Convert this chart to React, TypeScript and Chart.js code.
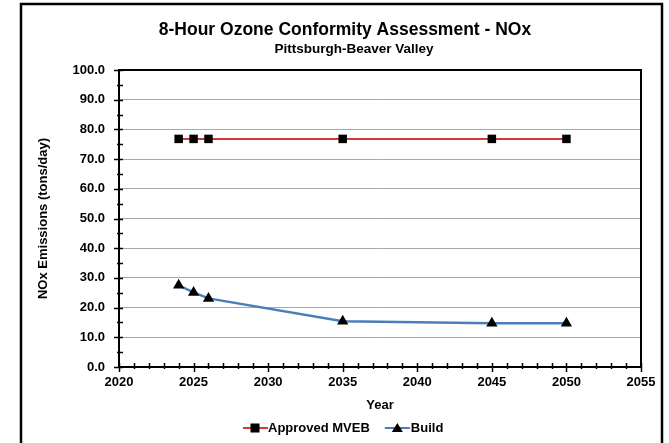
import React, { useEffect, useRef } from "react";
import { Chart, registerables } from "chart.js";

Chart.register(...registerables);

const years = [2024, 2025, 2026, 2035, 2045, 2050];
const approvedMVEB = [76.8, 76.8, 76.8, 76.8, 76.8, 76.8];
const build = [27.5, 25.1, 23.1, 15.4, 14.7, 14.7];
const titleText = "8-Hour Ozone Conformity Assessment - NOx";
const subtitleText = "Pittsburgh-Beaver Valley";
const yAxisTitle = "NOx Emissions (tons/day)";
const xAxisTitle = "Year";
const seriesNames = ["Approved MVEB", "Build"];

const RED = "#d23a3a";
const BLUE = "#4a7ebb";
const FONT = "'Liberation Sans', Arial, sans-serif";

const decorPlugin = {
  id: "decor",
  beforeDraw(chart: any) {
    const ctx = chart.ctx;
    ctx.save();
    ctx.fillStyle = "#ffffff";
    ctx.fillRect(0, 0, chart.width, chart.height);
    ctx.restore();
  },
  afterDatasetsDraw(chart: any) {
    const ctx = chart.ctx;
    const ca = chart.chartArea;
    const xs = chart.scales.x;
    const ys = chart.scales.y;
    ctx.save();
    ctx.strokeStyle = "#000";
    ctx.lineWidth = 2;
    ctx.strokeRect(ca.left, ca.top, ca.right - ca.left, ca.bottom - ca.top);
    ctx.lineWidth = 1.5;
    for (let yr = 2020; yr <= 2055; yr++) {
      const px = Math.round(xs.getPixelForValue(yr)) + 0.5;
      const major = yr % 5 === 0;
      ctx.beginPath();
      ctx.moveTo(px, ca.bottom - 4);
      ctx.lineTo(px, ca.bottom + (major ? 5 : 2));
      ctx.stroke();
    }
    for (let v = 0; v <= 100; v += 5) {
      const py = Math.round(ys.getPixelForValue(v)) + 0.5;
      const major = v % 10 === 0;
      ctx.beginPath();
      ctx.moveTo(ca.left - (major ? 5 : 2), py);
      ctx.lineTo(ca.left + 4, py);
      ctx.stroke();
    }
    ctx.restore();
  },
  afterDraw(chart: any) {
    const ctx = chart.ctx;
    const ca = chart.chartArea;
    ctx.save();
    ctx.strokeStyle = "#000";
    ctx.lineWidth = 2.5;
    ctx.strokeRect(21, 4, 641, 441);
    ctx.fillStyle = "#000";
    ctx.textAlign = "center";
    ctx.textBaseline = "middle";
    ctx.font = `bold 17.5px ${FONT}`;
    ctx.fillText(titleText, 345, 30);
    ctx.font = `bold 13.5px ${FONT}`;
    ctx.fillText(subtitleText, 354, 49);
    ctx.save();
    ctx.translate(43, (ca.top + ca.bottom) / 2);
    ctx.rotate(-Math.PI / 2);
    ctx.font = `bold 13px ${FONT}`;
    ctx.fillText(yAxisTitle, 0, 0);
    ctx.restore();
    ctx.font = `bold 13px ${FONT}`;
    ctx.fillText(xAxisTitle, 380, 405);
    const ly = 428;
    ctx.textAlign = "left";
    ctx.font = `bold 13px ${FONT}`;
    ctx.lineWidth = 2;
    ctx.strokeStyle = RED;
    ctx.beginPath();
    ctx.moveTo(243, ly);
    ctx.lineTo(268, ly);
    ctx.stroke();
    ctx.fillStyle = "#000";
    ctx.fillRect(250.5, ly - 4.5, 9, 9);
    ctx.fillText(seriesNames[0], 268, ly);
    const w0 = ctx.measureText(seriesNames[0]).width;
    const s2 = 268 + w0 + 15;
    ctx.strokeStyle = BLUE;
    ctx.beginPath();
    ctx.moveTo(s2, ly);
    ctx.lineTo(s2 + 25, ly);
    ctx.stroke();
    ctx.fillStyle = "#000";
    ctx.beginPath();
    ctx.moveTo(s2 + 12.5, ly - 5);
    ctx.lineTo(s2 + 18, ly + 4);
    ctx.lineTo(s2 + 7, ly + 4);
    ctx.closePath();
    ctx.fill();
    ctx.fillText(seriesNames[1], s2 + 26, ly);
    ctx.restore();
  },
};

export default function App() {
  const ref = useRef<HTMLCanvasElement>(null);
  useEffect(() => {
    document.body.style.margin = "0";
    const chart = new Chart(ref.current!, {
      type: "line",
      data: {
        datasets: [
          {
            label: seriesNames[0],
            data: years.map((x, i) => ({ x, y: approvedMVEB[i] })),
            borderColor: RED,
            borderWidth: 2,
            pointStyle: "rect",
            pointRadius: 6,
            pointBackgroundColor: "#000",
            pointBorderColor: "#000",
            pointBorderWidth: 0,
          },
          {
            label: seriesNames[1],
            data: years.map((x, i) => ({ x, y: build[i] })),
            borderColor: BLUE,
            borderWidth: 2.5,
            pointStyle: "triangle",
            pointRadius: 6.5,
            pointBackgroundColor: "#000",
            pointBorderColor: "#000",
            pointBorderWidth: 0,
          },
        ],
      },
      options: {
        animation: false,
        responsive: false,
        layout: { padding: { left: 0, top: 70, right: 28, bottom: 0 } },
        plugins: {
          legend: { display: false },
          title: { display: false },
          tooltip: { enabled: false },
        },
        scales: {
          x: {
            type: "linear",
            min: 2020,
            max: 2055,
            afterFit: (s: any) => {
              s.height = 76;
            },
            ticks: {
              stepSize: 5,
              padding: 8,
              color: "#000",
              font: { family: FONT, size: 13, weight: "bold" },
              callback: (v: any) => String(v),
              maxRotation: 0,
            },
            grid: { display: false, drawTicks: false },
            border: { display: true, color: "#000", width: 2 },
          },
          y: {
            min: 0,
            max: 100,
            afterFit: (s: any) => {
              s.width = 119;
            },
            ticks: {
              stepSize: 10,
              padding: 14,
              color: "#000",
              font: { family: FONT, size: 13, weight: "bold" },
              callback: (v: any) => Number(v).toFixed(1),
            },
            grid: { color: "#a8a8a8", lineWidth: 1, drawTicks: false },
            border: { display: true, color: "#000", width: 2 },
          },
        },
      },
      plugins: [decorPlugin],
    });
    return () => chart.destroy();
  }, []);
  return (
    <div style={{ width: 669, height: 443 }}>
      <canvas ref={ref} width={669} height={443} style={{ display: "block" }} />
    </div>
  );
}
